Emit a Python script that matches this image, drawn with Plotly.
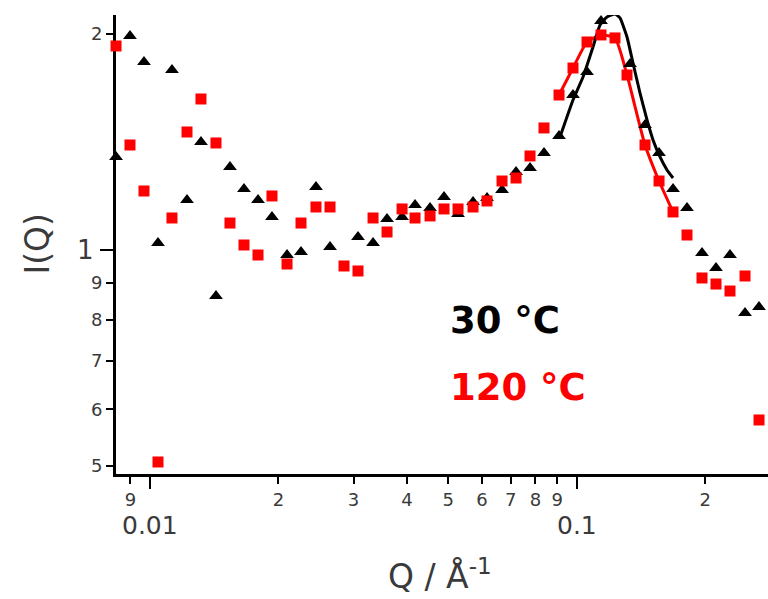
import math
import plotly.graph_objects as go

# ---- data (log-log scattering curves) ----
q_30 = [0.008325, 0.008976, 0.009681, 0.010441, 0.011259, 0.012210, 0.013166, 0.014277,
        0.015396, 0.016606, 0.017911, 0.019314, 0.020948, 0.022589, 0.024490, 0.026418,
        0.030723, 0.033320, 0.035933, 0.038970, 0.041797, 0.045322, 0.048874, 0.052708,
        0.057155, 0.061636, 0.066838, 0.072085, 0.077734, 0.083822, 0.090898, 0.098024,
        0.10572, 0.11401, 0.12363, 0.13334, 0.14458, 0.15594, 0.16817, 0.18134,
        0.19663, 0.21206, 0.22869, 0.24802, 0.26745]
i_30 = [1.3478, 1.9873, 1.8280, 1.0227, 1.7817, 1.1742, 1.4143, 0.8627,
        1.3052, 1.2163, 1.1742, 1.1117, 0.9841, 0.9936, 1.2241, 1.0097,
        1.0426, 1.0227, 1.1046, 1.1117, 1.1555, 1.1444, 1.1855, 1.1226,
        1.1667, 1.1817, 1.2124, 1.2843, 1.3008, 1.3653, 1.4418, 1.6444,
        1.7703, 2.0852, 2.1394, 1.8163, 1.4937, 1.3653, 1.2163, 1.1444,
        0.9904, 0.9439, 0.9841, 0.8169, 0.8328]

q_120 = [0.008325, 0.008976, 0.009681, 0.010441, 0.011259, 0.012210, 0.013166, 0.014277,
         0.015396, 0.016606, 0.017911, 0.019314, 0.020948, 0.022589, 0.024490, 0.026418,
         0.028490, 0.030723, 0.033320, 0.035933, 0.038970, 0.041797, 0.045322, 0.048874,
         0.052708, 0.057155, 0.061636, 0.066838, 0.072085, 0.077734, 0.083822, 0.090898,
         0.098024, 0.10572, 0.11401, 0.12296, 0.13118, 0.14458, 0.15594, 0.16817,
         0.18134, 0.19663, 0.21206, 0.22869, 0.24802, 0.26745, 0.28380]
i_120 = [1.9245, 1.4007, 1.2085, 0.5065, 1.1082, 1.4604, 1.6235, 1.4098,
         1.0904, 1.0162, 0.9841, 1.1893, 0.9561, 1.0904, 1.1480, 1.1480,
         0.9500, 0.9349, 1.1082, 1.0595, 1.1408, 1.1082, 1.1155, 1.1408,
         1.1408, 1.1480, 1.1704, 1.2478, 1.2599, 1.3522, 1.4794, 1.6444,
         1.7931, 1.9494, 1.9938, 1.9747, 1.7533, 1.4007, 1.2478, 1.1298,
         1.0493, 0.9141, 0.8966, 0.8767, 0.9200, 0.5796, 0.8681]

# fitted peak curve for 30 °C
q_fit30 = [0.091389, 0.098024, 0.10346, 0.10919, 0.11340, 0.11776, 0.12296, 0.12632,
           0.13118, 0.13550, 0.14071, 0.14615, 0.15096, 0.15678, 0.16280, 0.16817]
i_fit30 = [1.4372, 1.6183, 1.7421, 1.9184, 2.0587, 2.1122, 2.1326, 2.1054,
           1.9809, 1.8222, 1.6549, 1.5177, 1.4234, 1.3478, 1.2927, 1.2599]

# line through 120 °C peak points
q_fit120 = [0.090898, 0.098024, 0.10572, 0.11401, 0.12296, 0.13118, 0.14458, 0.15594, 0.16817]
i_fit120 = [1.6444, 1.7931, 1.9494, 1.9938, 1.9747, 1.7533, 1.4007, 1.2478, 1.1298]

x_minor_vals = [0.009, 0.02, 0.03, 0.04, 0.05, 0.06, 0.07, 0.08, 0.09, 0.2]
x_minor_text = ["9", "2", "3", "4", "5", "6", "7", "8", "9", "2"]
x_decades = [0.01, 0.1]
x_decade_text = ["0.01", "0.1"]
y_minor_vals = [0.5, 0.6, 0.7, 0.8, 0.9, 2]
y_minor_text = ["5", "6", "7", "8", "9", "2"]
y_decades = [1]
y_decade_text = ["1"]

BLACK = "#000000"
RED = "#ff0000"
TXT = "#3a3a3a"
FONT = "DejaVu Sans"

fig = go.Figure()
fig.add_trace(go.Scatter(x=q_fit120, y=i_fit120, mode="lines",
                         line=dict(color=RED, width=3, shape="spline", smoothing=0.5),
                         cliponaxis=False, showlegend=False))
fig.add_trace(go.Scatter(x=q_fit30, y=i_fit30, mode="lines",
                         line=dict(color=BLACK, width=3, shape="spline", smoothing=0.4),
                         cliponaxis=False, showlegend=False))
fig.add_trace(go.Scatter(x=q_30, y=i_30, mode="markers",
                         marker=dict(symbol="triangle-up", size=12, color=BLACK, line=dict(width=0)),
                         cliponaxis=False, showlegend=False))
fig.add_trace(go.Scatter(x=q_120, y=i_120, mode="markers",
                         marker=dict(symbol="square", size=11, color=RED, line=dict(width=0)),
                         cliponaxis=False, showlegend=False))

fig.update_layout(
    width=768, height=599,
    margin=dict(l=116, r=0, t=15, b=125),
    paper_bgcolor="white", plot_bgcolor="white",
    font=dict(family=FONT, color=TXT),
    xaxis=dict(type="log", range=[-2.07968, -0.55168], showgrid=False, zeroline=False,
               showline=True, linecolor=BLACK, linewidth=3, layer="below traces",
               tickmode="array", tickvals=x_minor_vals, ticktext=x_minor_text,
               ticks="outside", ticklen=7, tickwidth=2, tickcolor=BLACK,
               tickfont=dict(family=FONT, size=18, color=TXT),
               minor=dict(tickvals=x_decades, ticks="outside", ticklen=12, tickwidth=2, tickcolor=BLACK)),
    yaxis=dict(type="log", range=[-0.31215, 0.32748], showgrid=False, zeroline=False,
               showline=True, linecolor=BLACK, linewidth=3, layer="below traces",
               tickmode="array", tickvals=y_minor_vals, ticktext=y_minor_text,
               ticks="outside", ticklen=7, tickwidth=2, tickcolor=BLACK,
               tickfont=dict(family=FONT, size=18, color=TXT),
               minor=dict(tickvals=y_decades, ticks="outside", ticklen=13, tickwidth=2, tickcolor=BLACK)),
)

annotations = []
for v, t in zip(x_decades, x_decade_text):
    annotations.append(dict(x=math.log10(v), y=0, xref="x", yref="paper", text=t, showarrow=False,
                            xanchor="center", yanchor="middle", yshift=-51,
                            font=dict(family=FONT, size=25, color=TXT)))
for v, t in zip(y_decades, y_decade_text):
    annotations.append(dict(x=0, y=math.log10(v), xref="paper", yref="y", text=t, showarrow=False,
                            xanchor="right", yanchor="middle", xshift=-20,
                            font=dict(family=FONT, size=26, color=TXT)))
annotations += [
    dict(x=0.5, y=0, xref="paper", yref="paper", text="Q / Å<sup>-1</sup>", showarrow=False,
         xanchor="center", yanchor="middle", xshift=-2, yshift=-100,
         font=dict(family=FONT, size=33, color=TXT)),
    dict(x=0, y=0.5, xref="paper", yref="paper", text="I(Q)", showarrow=False, textangle=-90,
         xanchor="center", yanchor="middle", xshift=-79,
         font=dict(family=FONT, size=33, color=TXT)),
    dict(x=0.5092, y=0.3355, xref="paper", yref="paper", text="30 °C", showarrow=False,
         xanchor="left", yanchor="middle",
         font=dict(family=FONT, size=37, color=BLACK, weight="bold")),
    dict(x=0.5092, y=0.1874, xref="paper", yref="paper", text="120 °C", showarrow=False,
         xanchor="left", yanchor="middle",
         font=dict(family=FONT, size=37, color=RED, weight="bold")),
]
fig.update_layout(annotations=annotations)

fig.write_html("out.html")
